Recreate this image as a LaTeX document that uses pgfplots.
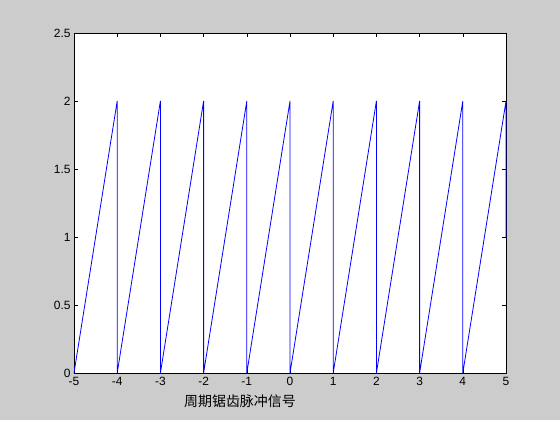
\documentclass[border=0pt]{standalone}
\usepackage{pgfplots}
\pgfplotsset{compat=1.18}
\usepackage{fontspec}
\setmainfont{Liberation Sans}
\newfontfamily\cjk{Noto Sans CJK SC}
\definecolor{figbg}{RGB}{204,204,204}
\begin{document}
\begin{tikzpicture}[x=1bp,y=1bp]
\fill[figbg] (0,0) rectangle (560,420);
\begin{axis}[
  at={(74bp,47bp)}, anchor=south west,
  scale only axis, width=432bp, height=340bp,
  xmin=-5, xmax=5, ymin=0, ymax=2.5,
  xtick={-5,-4,...,5},
  ytick={0,0.5,1,1.5,2,2.5},
  yticklabels={0,0.5,1,1.5,2,2.5},
  tick align=inside,
  major tick length=4bp,
  axis line style={black, line width=0.6pt},
  tick style={black, line width=0.6pt},
  axis background/.style={fill=white},
  ticklabel style={font=\fontsize{12}{14}\selectfont},
  xticklabel style={yshift=-1bp},
  /pgf/number format/assume math mode=true,
  clip=false,
]
\addplot[blue, line width=0.8pt] coordinates {
(-5,0) (-4,2) (-4,0) (-3,2) (-3,0) (-2,2) (-2,0) (-1,2) (-1,0)
(0,2) (0,1) (0,0) (1,2) (1,0) (2,2) (2,0) (3,2) (3,0) (4,2) (4,0) (5,2) (5,1)
};
\end{axis}
\node[anchor=west, inner sep=0pt] at (184,19) {\cjk\fontsize{14}{16}\selectfont 周期锯齿脉冲信号};
\end{tikzpicture}
\end{document}
